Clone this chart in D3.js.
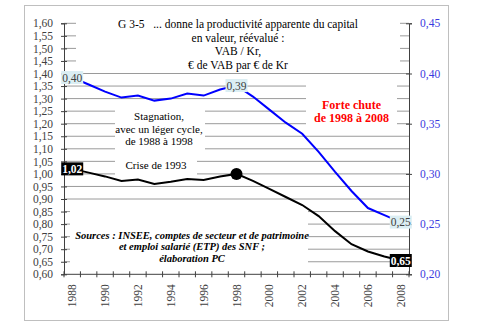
<html>
<head>
<script src="https://d3js.org/d3.v7.min.js"></script>
<style>
body { margin: 0; background: #fff; }
svg { display: block; }
text { font-family: 'Liberation Serif', 'Times New Roman', serif; }
</style>
</head>
<body>
<div id="plot"></div>
<script>

var width = 480;
var height = 328;

// data
var years = d3.range(1988, 2009);
var vabKr = [0.396, 0.389, 0.382, 0.376, 0.378, 0.373, 0.375, 0.380, 0.378, 0.384, 0.388,
             0.377, 0.364, 0.351, 0.340, 0.322, 0.302, 0.283, 0.266, 0.259, 0.252];
var productivite = [1.02, 1.005, 0.99, 0.972, 0.978, 0.96, 0.969, 0.98, 0.976, 0.99, 1.00,
                    0.972, 0.94, 0.908, 0.876, 0.832, 0.772, 0.72, 0.691, 0.671, 0.655];
var leftTicks = d3.range(0, 21).map(function (i) { return 0.60 + i * 0.05; });
var rightTicks = [0.20, 0.25, 0.30, 0.35, 0.40, 0.45];
var xLabels = years.filter(function (y) { return y % 2 === 0; });
var titleLines = ["G 3-5   ... donne la productivité apparente du capital",
                  "en valeur, réévalué :", "VAB / Kr,", "€ de VAB par € de Kr"];
var stagnationLines = ["Stagnation,", "avec un léger cycle,", "de 1988 à 1998"];
var chuteLines = ["Forte chute", "de 1998 à 2008"];
var sourceLines = ["Sources : INSEE, comptes de secteur et de patrimoine",
                   "et emploi salarié (ETP) des SNF ;", "élaboration PC"];

var fmt = function (v) { return d3.format(".2f")(v).replace(".", ","); };

var svg = d3.select("#plot").append("svg")
  .attr("width", width).attr("height", height);

// outer frame
svg.append("rect").attr("x", 24.5).attr("y", 5.5).attr("width", 424).attr("height", 315)
  .style("fill", "none").style("stroke", "#bfbfbf");

var plotLeft = 64, plotRight = 409, plotTop = 23.3, plotBottom = 274.3;

var xScale = d3.scaleBand().domain(years).range([plotLeft, plotRight]).padding(0);
var yScale = d3.scaleLinear().domain([0.60, 1.60]).range([plotBottom, plotTop]);
var y2Scale = d3.scaleLinear().domain([0.20, 0.45]).range([plotBottom, plotTop]);
var xc = function (y) { return xScale(y) + xScale.bandwidth() / 2; };

// gridlines
svg.append("g").selectAll("line").data(leftTicks.slice(1)).enter().append("line")
  .attr("x1", plotLeft).attr("x2", plotRight)
  .attr("y1", function (d) { return yScale(d); }).attr("y2", function (d) { return yScale(d); })
  .style("stroke", "#9a9a9a").style("stroke-width", 1);

// white text boxes hiding gridlines
var boxes = [[76, 16, 324, 54], [306, 80, 91, 47], [115, 104, 90, 46], [115, 155, 82, 22], [70, 205, 238, 58]];
svg.append("g").selectAll("rect").data(boxes).enter().append("rect")
  .attr("x", function (d) { return d[0]; }).attr("y", function (d) { return d[1]; })
  .attr("width", function (d) { return d[2]; }).attr("height", function (d) { return d[3]; })
  .style("fill", "#fff");

// left axis
var yAxis = d3.axisLeft(yScale).tickValues(leftTicks).tickFormat(fmt).tickSize(3).tickPadding(8);
var gy = svg.append("g").attr("transform", "translate(" + plotLeft + ",0)").call(yAxis);
gy.selectAll(".tick line").clone().attr("x2", 3);
gy.select(".domain").style("stroke", "#404040");
gy.selectAll(".tick line").style("stroke", "#404040");
gy.selectAll("text").style("font-size", "11.5px").style("fill", "#404040")
  .style("font-family", "'Liberation Serif', serif");

// right axis
var y2Axis = d3.axisRight(y2Scale).tickValues(rightTicks).tickFormat(fmt).tickSize(3).tickPadding(8);
var gy2 = svg.append("g").attr("transform", "translate(" + plotRight + ",0)").call(y2Axis);
gy2.selectAll(".tick line").clone().attr("x2", -3);
gy2.select(".domain").style("stroke", "#404040");
gy2.selectAll(".tick line").style("stroke", "#404040");
gy2.selectAll("text").style("font-size", "11.5px").style("fill", "#3a3ae0")
  .style("font-family", "'Liberation Serif', serif");

// bottom axis: ticks between categories
var gx = svg.append("g");
gx.append("line").attr("x1", plotLeft).attr("x2", plotRight).attr("y1", plotBottom).attr("y2", plotBottom)
  .style("stroke", "#404040");
gx.selectAll("line.tk").data(years.concat([2009])).enter().append("line").attr("class", "tk")
  .attr("x1", function (d) { return d === 2009 ? plotRight : xScale(d); })
  .attr("x2", function (d) { return d === 2009 ? plotRight : xScale(d); })
  .attr("y1", plotBottom - 3).attr("y2", plotBottom + 3)
  .style("stroke", "#404040");
gx.selectAll("text").data(xLabels).enter().append("text")
  .attr("transform", function (d) { return "translate(" + (xc(d) + 4) + "," + (plotBottom + 10) + ") rotate(-90)"; })
  .attr("text-anchor", "end")
  .style("font-size", "11.5px").style("fill", "#404040")
  .text(function (d) { return d; });

// lines
var blueLine = d3.line().x(function (d, i) { return xc(years[i]); }).y(function (d) { return y2Scale(d); });
var blackLine = d3.line().x(function (d, i) { return xc(years[i]); }).y(function (d) { return yScale(d); });

svg.append("path").datum(vabKr).attr("d", blueLine)
  .style("fill", "none").style("stroke", "#0000ff").style("stroke-width", 2);
svg.append("path").datum(productivite).attr("d", blackLine)
  .style("fill", "none").style("stroke", "#000").style("stroke-width", 2);

svg.append("circle").attr("cx", xc(1998)).attr("cy", yScale(productivite[10])).attr("r", 6)
  .style("fill", "#000");

// value labels
function valueLabel(year, y, text, dark) {
  var g = svg.append("g").attr("transform", "translate(" + xc(year) + "," + y + ")");
  g.append("rect").attr("x", -11).attr("y", -6.5).attr("width", 22).attr("height", 13)
    .style("fill", dark ? "#000" : "#dbeef3");
  g.append("text").attr("text-anchor", "middle").attr("dy", "0.35em")
    .style("font-size", "11.5px").style("font-weight", dark ? "bold" : "normal")
    .style("fill", dark ? "#fff" : "#404040").text(text);
}
valueLabel(1988, y2Scale(vabKr[0]), fmt(0.40), false);
valueLabel(1998, y2Scale(vabKr[10]), fmt(0.39), false);
valueLabel(2008, y2Scale(vabKr[20]), fmt(0.25), false);
valueLabel(1988, yScale(productivite[0]), fmt(1.02), true);
valueLabel(2008, yScale(productivite[20]), fmt(0.65), true);

// texts
function block(lines, cx, y0, step, size, color, weight, style) {
  svg.append("g").selectAll("text").data(lines).enter().append("text")
    .attr("x", cx).attr("y", function (d, i) { return y0 + i * step; })
    .attr("text-anchor", "middle").attr("dy", "0.35em")
    .style("font-size", size).style("fill", color)
    .style("font-weight", weight).style("font-style", style)
    .style("white-space", "pre")
    .text(function (d) { return d; });
}
block(titleLines, 238, 24, 13.6, "11.5px", "#000", "normal", "normal");
block(stagnationLines, 159, 116.5, 12.5, "11px", "#000", "normal", "normal");
block(["Crise de 1993"], 156, 165.5, 0, "11px", "#000", "normal", "normal");
block(chuteLines, 351.5, 105, 12.5, "12px", "#ff0000", "bold", "normal");
block(sourceLines, 192, 235, 11.5, "10.5px", "#000", "bold", "italic");

</script>
</body>
</html>
